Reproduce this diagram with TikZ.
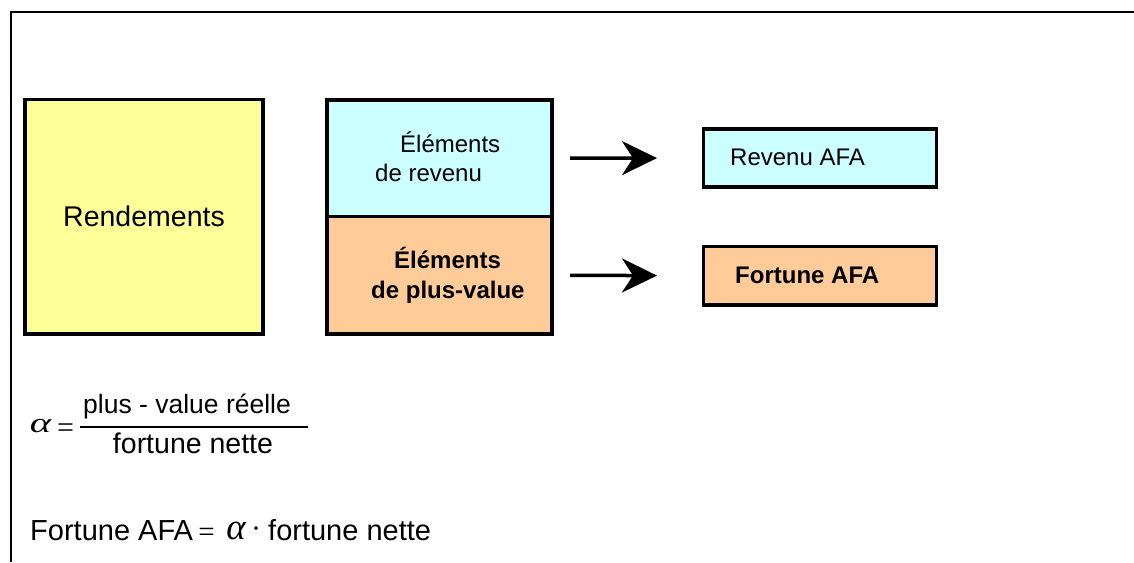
\documentclass[tikz,border=0pt]{standalone}
\usepackage{fontspec}
\setmainfont{Liberation Sans}
\newfontfamily\symfont{Liberation Serif}
\usetikzlibrary{arrows.meta}
\definecolor{yel}{HTML}{FFFF99}
\definecolor{cya}{HTML}{CCFFFF}
\definecolor{ora}{HTML}{FFCC99}
\begin{document}
\begin{tikzpicture}[x=1pt,y=-1pt,
  box/.style={draw=black, line width=3.2pt, inner sep=0pt, outer sep=0pt},
  txt/.style={inner sep=0pt, anchor=base west, font=\fontsize{24}{29}\selectfont},
  btxt/.style={txt, font=\fontsize{24}{29}\selectfont\bfseries},
  arr/.style={line width=3.5pt, -{Stealth[length=35pt,width=34pt,inset=11pt]}},
  frm/.style={inner sep=0pt, anchor=base}]
\useasboundingbox (0,0) rectangle (1134,562);
% frame
\draw[line width=2pt] (10.5,562) -- (10.5,12) -- (1134,12);
% boxes
\node[box, fill=yel, minimum width=238pt, minimum height=234.5pt,
      font=\fontsize{28.5}{34}\selectfont] (rend) at (144,216.75) {Rendements};
\node[box, fill=cya, minimum width=225pt, minimum height=116.5pt] (elrev) at (439.5,158.25) {};
\node[box, fill=ora, minimum width=225pt, minimum height=117.5pt] (elpv) at (439.5,275.25) {};
\node[box, fill=cya, minimum width=233pt, minimum height=58pt] (revafa) at (820,158) {};
\node[box, fill=ora, minimum width=233pt, minimum height=58.5pt] (fortafa) at (820,275.75) {};
% labels
\node[txt] (t1) at (400,152) {Éléments};
\node[txt] (t2) at (375,181) {de revenu};
\node[btxt] (t3) at (394,268) {Éléments};
\node[btxt] (t4) at (371,298) {de plus-value};
\node[txt] (t5) at (730,165) {Revenu AFA};
\node[btxt] (t6) at (735,283) {Fortune AFA};
% arrows
\draw[arr, shorten <=18pt, shorten >=46.5pt] (elrev.east) -- (revafa.west);
\draw[arr, shorten <=18pt, shorten >=46.5pt] (elpv.east) -- (fortafa.west);
% formula 1
\node[frm, font=\symfont\itshape\fontsize{28}{28}\selectfont] (a1) at (40.5,432) {\scalebox{1.45}[1]{α}};
\node[frm, font=\symfont\fontsize{30}{30}\selectfont] (eq1) at (65.5,437) {=};
\node[frm, anchor=base west, font=\fontsize{26.5}{30}\selectfont] (num) at (83,413) {plus - value réelle};
\node[frm, font=\fontsize{28.5}{30}\selectfont] (den) at (193,453) {fortune nette};
\coordinate (barl) at (80,427);
\coordinate (barr) at (308,427);
\draw[line width=1.4pt] (barl) -- (barr);
% formula 2
\node[frm, anchor=base west, font=\fontsize{29}{30}\selectfont] (fa) at (30,540) {Fortune AFA};
\node[frm, font=\symfont\fontsize{29}{29}\selectfont] (eq2) at (206.5,541.5) {=};
\node[frm, font=\symfont\itshape\fontsize{37}{37}\selectfont] (a2) at (236,539) {α};
\node[frm, font=\symfont\fontsize{30}{30}\selectfont] (dot) at (256,538) {·};
\node[frm, anchor=base west, font=\fontsize{29}{30}\selectfont] (fn) at (268,540) {fortune nette};
\end{tikzpicture}
\end{document}
